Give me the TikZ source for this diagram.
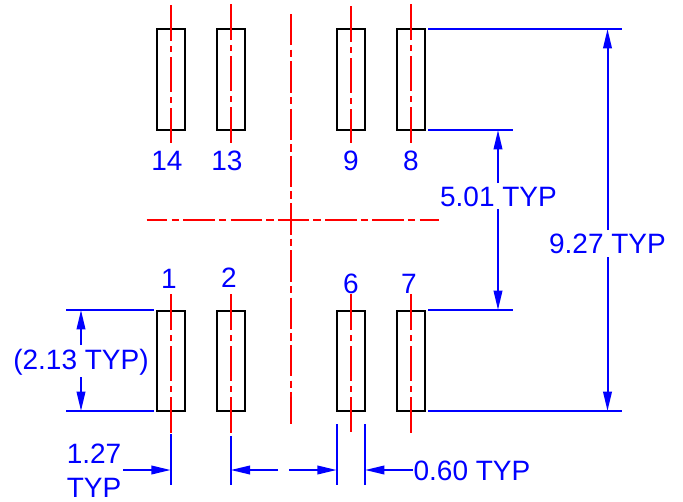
\documentclass[tikz,border=0pt]{standalone}
\usepackage{fontspec}
\setmainfont{Liberation Sans}
\usetikzlibrary{arrows.meta}
\definecolor{dimblue}{RGB}{0,0,255}
\definecolor{cl}{RGB}{255,0,0}
\tikzset{
  padbox/.style={draw=black,line width=1.5pt,minimum width=20.8pt,minimum height=75.3pt,inner sep=0pt,outer sep=0pt},
  dimline/.style={draw=dimblue,line width=1.5pt},
  dimtext/.style={text=dimblue,font=\fontsize{21pt}{24pt}\selectfont,inner sep=0pt,anchor=base},
  centerline/.style={draw=cl,line width=1.6pt},
  padaxis/.style={centerline,dash pattern=on 27pt off 3.75pt on 4.5pt off 3.75pt on 26.25pt off 3.75pt on 4.5pt off 3.75pt on 27pt off 100pt},
  longdash/.style={centerline,dash pattern=on 23.6pt off 3.15pt on 5.55pt off 3.15pt},
  arrowtip/.style={-{Triangle[length=14.5pt,width=6.4pt]}}
}
\begin{document}
\begin{tikzpicture}[x=0.75pt,y=-0.75pt]
\useasboundingbox (0,0) rectangle (683,501);
\foreach \n/\x/\y in {p14/170.7/79.5,p13/230.7/79.5,p9/350.7/79.5,p8/410.7/79.5,p1/170.7/360.7,p2/230.7/360.7,p6/350.7/360.7,p7/410.7/360.7}
  \node[padbox] (\n) at (\x,\y) {};
\foreach \x/\a/\b in {170.7/5/143,230.7/4/143,350.7/6/143,410.7/4/143,170.7/294/433,230.7/294/434,350.7/294/432,410.7/294/434}
  \draw[padaxis] (\x,\a) -- (\x,\b);
\draw[longdash,dash phase=7.9pt] (146.5,220) -- (439,220);
\draw[longdash] (290.7,14) -- (290.7,425);
\foreach \t/\x/\y in {14/167/170,13/227/170,9/351/170,8/411/170,1/169/288,2/229/287,6/351/293,7/409/293}
  \node[dimtext] (n\t) at (\x,\y) {\t};
% extension lines
\coordinate (a1) at (428,29); \coordinate (a2) at (622,29);
\coordinate (b1) at (428,130); \coordinate (b2) at (513,130);
\coordinate (c1) at (428,310); \coordinate (c2) at (513,310);
\coordinate (d1) at (428,411); \coordinate (d2) at (622,411);
\coordinate (e1) at (66,310); \coordinate (e2) at (154,310);
\coordinate (f1) at (66,411); \coordinate (f2) at (154,411);
\foreach \p/\q in {a1/a2,b1/b2,c1/c2,d1/d2,e1/e2,f1/f2} \draw[dimline] (\p) -- (\q);
\node[dimtext] (t501) at (498.5,206) {5.01 TYP};
\node[dimtext] (t927) at (607.5,253) {9.27 TYP};
\node[dimtext] (t213) at (81,369) {(2.13 TYP)};
\node[dimtext] (t127) at (94,463) {1.27};
\node[dimtext] (ttyp) at (94,497) {TYP};
\node[dimtext] (t060) at (472,480) {0.60 TYP};
\coordinate (u1) at (498,183); \coordinate (u2) at (498,130);
\coordinate (u3) at (498,209); \coordinate (u4) at (498,310);
\coordinate (v1) at (607.5,230); \coordinate (v2) at (607.5,29);
\coordinate (v3) at (607.5,257); \coordinate (v4) at (607.5,411);
\coordinate (w1) at (81,345); \coordinate (w2) at (81,310);
\coordinate (w3) at (81,377); \coordinate (w4) at (81,411);
\foreach \p/\q in {u1/u2,u3/u4,v1/v2,v3/v4,w1/w2,w3/w4} \draw[dimline,arrowtip] (\p) -- (\q);
% horizontal dims
\coordinate (g1) at (170.7,434); \coordinate (g2) at (170.7,485);
\coordinate (h1) at (230.7,436); \coordinate (h2) at (230.7,485);
\coordinate (i1) at (336.7,424); \coordinate (i2) at (336.7,485);
\coordinate (j1) at (365,424); \coordinate (j2) at (365,485);
\foreach \p/\q in {g1/g2,h1/h2,i1/i2,j1/j2} \draw[dimline] (\p) -- (\q);
\coordinate (k1) at (123,470); \coordinate (k2) at (170.7,470);
\coordinate (l1) at (278,470); \coordinate (l2) at (230.7,470);
\coordinate (m1) at (289,470); \coordinate (m2) at (336.7,470);
\coordinate (o1) at (413,470); \coordinate (o2) at (365,470);
\foreach \p/\q in {k1/k2,l1/l2,m1/m2,o1/o2} \draw[dimline,arrowtip] (\p) -- (\q);
\end{tikzpicture}
\end{document}
